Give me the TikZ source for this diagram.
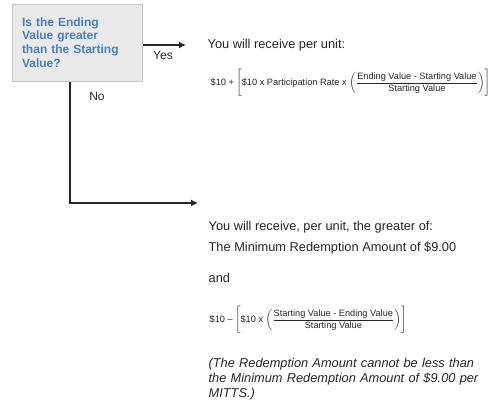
\documentclass[tikz,border=0pt]{standalone}
\usepackage{fontspec}
\setmainfont{Liberation Sans}
\usepackage{amsmath}
\usetikzlibrary{arrows.meta}
\definecolor{askblue}{HTML}{4A7FC0}
\definecolor{askfill}{HTML}{E9E9E9}
\definecolor{askline}{HTML}{C6C6C6}
\definecolor{ink}{HTML}{262626}
\begin{document}
\begin{tikzpicture}[x=1pt, y=-1pt, line width=1.3pt, >={Latex[length=7pt,width=7pt]},
ask node/.style={rectangle,draw=askline,fill=askfill,line width=1pt,minimum width=130pt,minimum height=77pt,text width=110pt,align=left,inner sep=0pt,text=askblue,font=\bfseries\fontsize{12}{13.7}\selectfont},
say node/.style={anchor=west,inner sep=0pt,text=ink,font=\fontsize{12.8}{15}\selectfont},
sum node/.style={anchor=west,inner sep=0pt,text=ink,font=\fontsize{9.2}{11}\selectfont}]
\useasboundingbox (0,0) rectangle (495,400);
\node[ask node] (ask) at (77,42.5) {Is the Ending\\Value greater\\than the Starting\\Value?};
\begin{scope}[every node/.style={inner sep=0pt,text=ink,font=\fontsize{12}{14}\selectfont}]
\node (yes) at (163,55) {Yes};%yes
\node (no) at (97,96) {No};%no
\end{scope}
% upper branch
\node[say node] (up) at (207,45) {You will receive per unit:};
\node[sum node] (upsum) at (210,83) {\$10 + $\Biggl[\text{\$10 x Participation Rate x }\biggl(\dfrac{\text{Ending Value - Starting Value}}{\text{Starting Value}}\biggr)\Biggr]$};
% lower branch
\node[say node] (low1) at (208,227) {You will receive, per unit, the greater of:};
\node[say node] (low2) at (208,248) {The Minimum Redemption Amount of \$9.00};
\node[say node] (low3) at (208,278) {and};
\node[sum node] (lowsum) at (209,320) {\$10 -- $\Biggl[\text{\$10 x }\biggl(\dfrac{\text{Starting Value - Ending Value}}{\text{Starting Value}}\biggr)\Biggr]$};
\node[say node,anchor=north west,text width=280pt,align=left,font=\itshape\fontsize{12.8}{15}\selectfont] (note) at (208,358) {(The Redemption Amount cannot be less than\\the Minimum Redemption Amount of \$9.00 per\\MITTS.)};
%\node[say node] () at (,) {};
\coordinate (yestip) at (186,45);
\coordinate (nobend) at (70,203);
\coordinate (notip) at (198,203);
\begin{scope}[draw=ink]
\draw[->] (ask.east |- yestip) -- (yestip);
\draw[->] (ask.south -| nobend) -- (nobend) -- (notip);
\end{scope}
\end{tikzpicture}
\end{document}
